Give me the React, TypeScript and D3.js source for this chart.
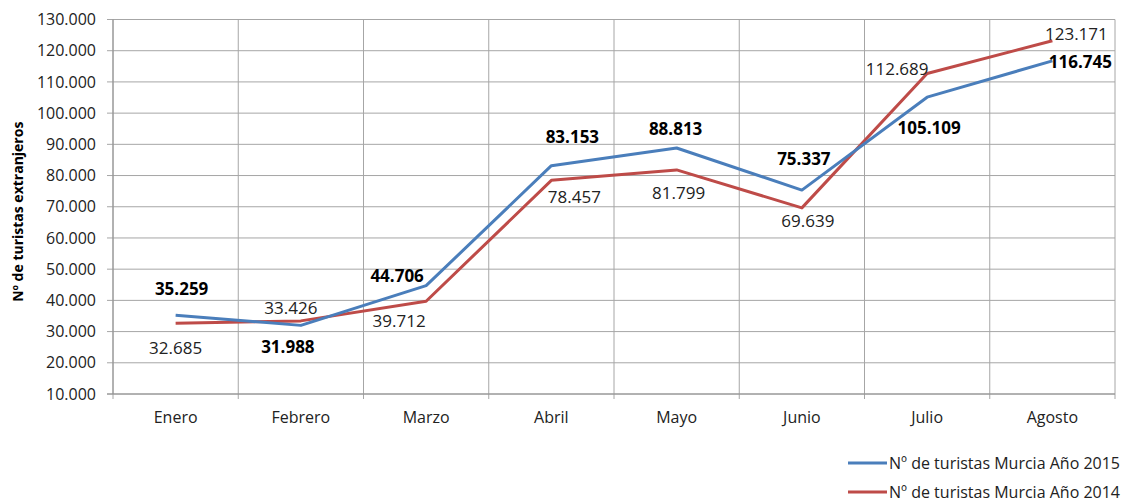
import React from 'react';
import * as d3 from 'd3';

const months = ['Enero', 'Febrero', 'Marzo', 'Abril', 'Mayo', 'Junio', 'Julio', 'Agosto'];
const turistas2015 = [35259, 31988, 44706, 83153, 88813, 75337, 105109, 116745];
const turistas2014 = [32685, 33426, 39712, 78457, 81799, 69639, 112689, 123171];
const yTicks = [10000, 20000, 30000, 40000, 50000, 60000, 70000, 80000, 90000, 100000, 110000, 120000, 130000];

// where each data label sits relative to its point (dx, dy of label centre)
const labelOffsets2015 = [[6, -26], [-13, 22], [-29, -10], [21, -29], [-1, -19], [2, -31], [2, 31], [28, 1]];
const labelOffsets2014 = [[0, 25], [-10, -13], [-27, 20], [23, 17], [2, 23], [6, 13], [-30, -4], [24, -7]];

const W = 1128;
const H = 502;
const FONT = '"Open Sans", sans-serif';

const locale = d3.formatLocale({ decimal: ',', thousands: '.', grouping: [3], currency: ['', '€'] });
const fmt = locale.format(',');

const App = () => {
  const x = d3.scaleBand().domain(months).range([113, 1115]);
  const y = d3.scaleLinear().domain([10000, 130000]).range([394, 19.5]);
  const cx = (m) => x(m) + x.bandwidth() / 2;

  const line = d3.line().x((d) => cx(d[0])).y((d) => y(d[1]));

  const series = [
    { name: 'Nº de turistas Murcia Año 2015', values: turistas2015, color: '#4a7ebb', bold: true, offsets: labelOffsets2015 },
    { name: 'Nº de turistas Murcia Año 2014', values: turistas2014, color: '#be4b48', bold: false, offsets: labelOffsets2014 },
  ];

  const boundaries = months.map((m) => x(m)).concat([x.range()[1]]);

  return (
    <svg width={W} height={H} style={{ position: 'absolute', left: 0, top: 0, background: '#fff' }} fontFamily={FONT}>
      {/* horizontal grid + left ticks */}
      {yTicks.map((t) => (
        <g key={t}>
          <line x1={107} x2={1115} y1={y(t)} y2={y(t)} stroke="#a6a6a6" strokeWidth={1} />
          <text x={96} y={y(t)} dy="0.35em" textAnchor="end" fontSize={16} fill="#222">{fmt(t)}</text>
        </g>
      ))}
      {/* vertical grid lines at category boundaries */}
      {boundaries.map((b, i) => (
        <line key={i} x1={b} x2={b} y1={y(130000)} y2={399} stroke="#a6a6a6" strokeWidth={1} />
      ))}
      <line x1={113} x2={113} y1={y(130000)} y2={y(10000)} stroke="#909090" strokeWidth={1} />
      <line x1={107} x2={1115} y1={y(10000)} y2={y(10000)} stroke="#909090" strokeWidth={1} />

      {months.map((m) => (
        <text key={m} x={cx(m)} y={417} dy="0.35em" textAnchor="middle" fontSize={16} fill="#222">{m}</text>
      ))}

      <text transform={`translate(18,${(y(130000) + y(10000)) / 2 + 5}) rotate(-90)`} textAnchor="middle" dy="0.35em"
        fontSize={14} fontWeight="bold" fill="#000">Nº de turistas extranjeros</text>

      {series.slice().reverse().map((s) => (
        <path key={s.name} d={line(months.map((m, i) => [m, s.values[i]]))} fill="none" stroke={s.color}
          strokeWidth={3} strokeLinejoin="round" />
      ))}

      {series.map((s) => months.map((m, i) => (
        <text key={s.name + m} x={cx(m) + s.offsets[i][0]} y={y(s.values[i]) + s.offsets[i][1]} dy="0.35em"
          textAnchor="middle" fontSize={17} fontWeight={s.bold ? 'bold' : 'normal'} fill={s.bold ? '#000' : '#222'}>
          {fmt(s.values[i])}
        </text>
      )))}

      {series.map((s, i) => (
        <g key={s.name} transform={`translate(848,${463 + i * 29})`}>
          <line x1={0} x2={39} y1={0} y2={0} stroke={s.color} strokeWidth={3} />
          <text x={41} y={0} dy="0.35em" fontSize={16} fill="#222">{s.name}</text>
        </g>
      ))}
    </svg>
  );
};

export default App;
